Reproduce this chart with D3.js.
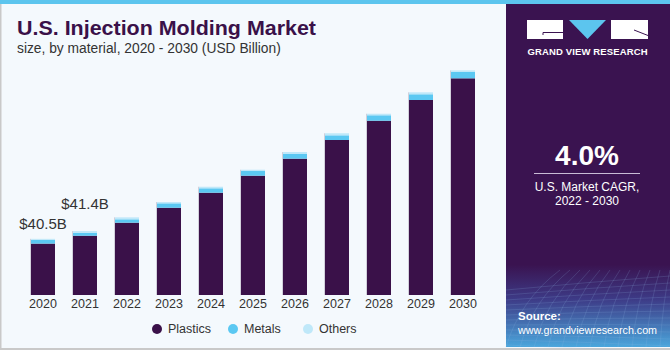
<!DOCTYPE html>
<html>
<head>
<meta charset="utf-8">
<script src="https://cdn.jsdelivr.net/npm/d3@7"></script>
<style>
  html, body { margin: 0; padding: 0; background: #f4f9fd; }
  svg { display: block; font-family: "Liberation Sans", Arial, sans-serif; }
</style>
</head>
<body>
<svg id="chart" width="670" height="350"></svg>
<script>
// U.S. injection molding market, stacked by material (USD bn).
// Bars sit on a non-zero baseline (34), same as the source graphic.
const years = ["2020", "2021", "2022", "2023", "2024", "2025", "2026", "2027", "2028", "2029", "2030"];
const plastics = [39.95, 40.86, 42.37, 44.10, 45.84, 47.81, 49.78, 51.94, 54.17, 56.57, 59.08];
const metals   = [0.43, 0.35, 0.39, 0.51, 0.51, 0.54, 0.54, 0.54, 0.63, 0.66, 0.76];
const others   = [0.12, 0.19, 0.23, 0.15, 0.18, 0.15, 0.23, 0.24, 0.18, 0.23, 0.28];
const seriesNames = ["Plastics", "Metals", "Others"];
const barLabels = [{ year: "2020", text: "$40.5B", lift: 10 }, { year: "2021", text: "$41.4B", lift: 22 }];

const COL = { Plastics: "#3a1149", Metals: "#5bc8f2", Others: "#bfe8f9" };
const INK = "#333333", TITLE = "#3a1149", PANEL = "#3a1350";

const svg = d3.select("#chart");
const defs = svg.append("defs");

// ---- frame ----
svg.append("rect").attr("x", 0).attr("y", 0).attr("width", 670).attr("height", 350).attr("fill", "#f4f9fd");
svg.append("rect").attr("x", 0).attr("y", 0).attr("width", 1.5).attr("height", 350).attr("fill", "#c9c9c9");
svg.append("rect").attr("x", 0).attr("y", 348).attr("width", 670).attr("height", 2).attr("fill", "#c9c9c9");
svg.append("rect").attr("x", 0).attr("y", 0).attr("width", 670).attr("height", 4).attr("fill", "#5cc5ee");

// ---- title ----
svg.append("text").attr("x", 17).attr("y", 35)
  .attr("fill", TITLE).attr("font-size", 21).attr("font-weight", "bold")
  .attr("textLength", 299).attr("lengthAdjust", "spacingAndGlyphs")
  .text("U.S. Injection Molding Market");
svg.append("text").attr("x", 17).attr("y", 53)
  .attr("fill", INK).attr("font-size", 13.8)
  .text("size, by material, 2020 - 2030 (USD Billion)");

// ---- bars ----
const baseY = 295;
const x = d3.scaleBand().domain(years).range([13, 493]).paddingInner(3 / 7).paddingOuter(3 / 7);
const y = d3.scaleLinear().domain([34, 60]).range([baseY, baseY - 26 * 8.64]).clamp(true);

const table = years.map((yr, i) => ({ year: yr, Plastics: plastics[i], Metals: metals[i], Others: others[i] }));
const stack = d3.stack().keys(seriesNames)(table);
const total = (d) => d.Plastics + d.Metals + d.Others;

svg.append("g").selectAll("g").data(stack).join("g")
  .attr("fill", (s) => COL[s.key])
  .selectAll("rect").data((s) => s).join("rect")
  .attr("x", (d) => x(d.data.year))
  .attr("width", x.bandwidth())
  .attr("y", (d) => y(d[1]))
  .attr("height", (d) => y(d[0]) - y(d[1]));

// faint shading line down the left edge of each bar
svg.append("g").selectAll("rect").data(table).join("rect")
  .attr("x", (d) => x(d.year) - 1)
  .attr("width", 1)
  .attr("y", (d) => y(total(d)))
  .attr("height", (d) => baseY - y(total(d)))
  .attr("fill", "#b9b4c4").attr("opacity", 0.6);

// value labels on first two bars
svg.append("g").selectAll("text").data(barLabels).join("text")
  .attr("x", (d) => x(d.year) + x.bandwidth() / 2)
  .attr("y", (d) => y(total(table.find((t) => t.year === d.year))) - d.lift)
  .attr("text-anchor", "middle").attr("fill", INK).attr("font-size", 15)
  .text((d) => d.text);

// year axis
const xAxis = svg.append("g").attr("transform", `translate(0,${baseY})`)
  .call(d3.axisBottom(x).tickSize(0).tickPadding(4));
xAxis.select(".domain").remove();
xAxis.selectAll("text").attr("fill", INK).attr("font-size", 12.5)
  .attr("font-family", "Liberation Sans, Arial, sans-serif");

// legend
const legendX = [157, 233, 308];
const lg = svg.append("g").selectAll("g").data(seriesNames).join("g")
  .attr("transform", (d, i) => `translate(${legendX[i]},329)`);
lg.append("circle").attr("r", 5).attr("fill", (d) => COL[d]);
lg.append("text").attr("x", 11).attr("dy", "0.35em")
  .attr("fill", INK).attr("font-size", 12.5).text((d) => d);

// ---- right panel ----
const grad = defs.append("linearGradient").attr("id", "panelGrad")
  .attr("x1", 0).attr("y1", 0).attr("x2", 0).attr("y2", 1);
grad.append("stop").attr("offset", 0).attr("stop-color", PANEL);
grad.append("stop").attr("offset", 0.76).attr("stop-color", PANEL);
grad.append("stop").attr("offset", 0.86).attr("stop-color", "#3d3a86");
grad.append("stop").attr("offset", 1).attr("stop-color", "#4aa6dc");

svg.append("rect").attr("x", 506).attr("y", 4).attr("width", 164).attr("height", 343)
  .attr("fill", "url(#panelGrad)");

// faint mesh in the source block
const mesh = svg.append("g").attr("stroke", "#8fb6e6").attr("stroke-opacity", 0.18).attr("fill", "none");
d3.range(0, 12).forEach((k) => {
  mesh.append("path").attr("d", `M${506 + k * 14},347 Q${520 + k * 13},300 ${560 + k * 10},270`);
  mesh.append("path").attr("d", `M506,${290 + k * 5} Q590,${282 + k * 6} 670,${276 + k * 7}`);
});

// logo
const logo = svg.append("g");
logo.append("rect").attr("x", 527).attr("y", 20).attr("width", 36).attr("height", 19).attr("fill", "#fff");
logo.append("path").attr("d", "M543,35 V32.5 H563").attr("stroke", PANEL).attr("stroke-width", 1).attr("fill", "none");
logo.append("path").attr("d", "M569,20 H606 L587.5,39 Z").attr("fill", "#5cc5ee");
logo.append("rect").attr("x", 611).attr("y", 20).attr("width", 37).attr("height", 19).attr("fill", "#fff");
logo.append("path").attr("d", "M634,30 L648,35.5").attr("stroke", PANEL).attr("stroke-width", 1).attr("fill", "none");
logo.append("text").attr("x", 587.5).attr("y", 55).attr("text-anchor", "middle")
  .attr("fill", "#fff").attr("font-size", 9.5).attr("font-weight", "bold")
  .attr("textLength", 120).attr("lengthAdjust", "spacing")
  .text("GRAND VIEW RESEARCH");

// CAGR
svg.append("text").attr("x", 587).attr("y", 165).attr("text-anchor", "middle")
  .attr("fill", "#fff").attr("font-size", 28).attr("font-weight", "bold").text("4.0%");
svg.append("line").attr("x1", 534).attr("x2", 640).attr("y1", 173.5).attr("y2", 173.5)
  .attr("stroke", "#c9bcd6").attr("stroke-width", 1);
svg.append("text").attr("x", 587).attr("y", 191).attr("text-anchor", "middle")
  .attr("fill", "#fff").attr("font-size", 12).text("U.S. Market CAGR,");
svg.append("text").attr("x", 587).attr("y", 205).attr("text-anchor", "middle")
  .attr("fill", "#fff").attr("font-size", 12).text("2022 - 2030");

// source
svg.append("text").attr("x", 518).attr("y", 320)
  .attr("fill", "#fff").attr("font-size", 11.5).attr("font-weight", "bold").text("Source:");
svg.append("text").attr("x", 518).attr("y", 334)
  .attr("fill", "#fff").attr("font-size", 10.7).text("www.grandviewresearch.com");
</script>
</body>
</html>
